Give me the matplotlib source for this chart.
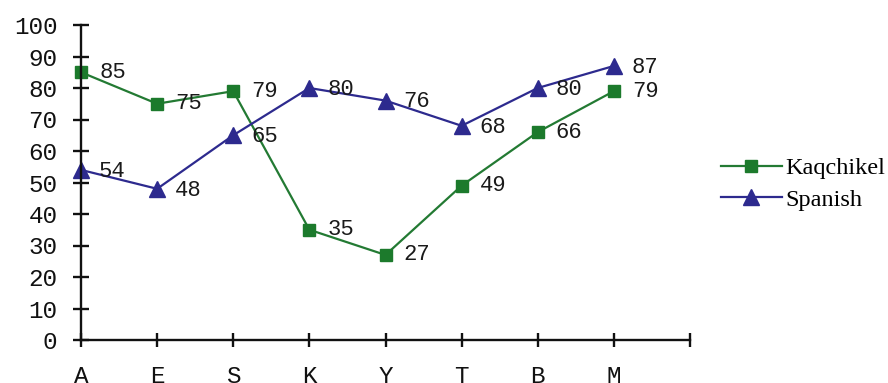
import matplotlib
matplotlib.use("Agg")
import matplotlib.pyplot as plt

categories = ["A", "E", "S", "K", "Y", "T", "B", "M"]
kaqchikel = [85, 75, 79, 35, 27, 49, 66, 79]
spanish = [54, 48, 65, 80, 76, 68, 80, 87]
y_ticks = [0, 10, 20, 30, 40, 50, 60, 70, 80, 90, 100]

green = "#237a33"
blue = "#2d2a8e"
mono = "Liberation Mono"

fig = plt.figure(figsize=(8.88, 3.83), dpi=100)
ax = fig.add_axes([81 / 888, 43 / 383, 609 / 888, 315 / 383])

x = list(range(len(categories)))
l1, = ax.plot(x, kaqchikel, color=green, lw=1.6, marker="s", ms=9,
              mfc="#1c7a2c", mec="#1c7a2c", label="Kaqchikel", clip_on=False)
l2, = ax.plot(x, spanish, color=blue, lw=1.6, marker="^", ms=11,
              mfc=blue, mec=blue, label="Spanish", clip_on=False)

for xi, v in zip(x, kaqchikel):
    ax.annotate(str(v), (xi, v), xytext=(13, 0), textcoords="offset points",
                ha="left", va="center", fontsize=16, family=mono, color="#1a1a1a")
for xi, v in zip(x, spanish):
    ax.annotate(str(v), (xi, v), xytext=(13, -1), textcoords="offset points",
                ha="left", va="center", fontsize=16, family=mono, color="#1a1a1a")

ax.set_xlim(0, 8)
ax.set_ylim(0, 100)
ax.set_xticks(list(range(9)))
ax.set_xticklabels(categories + [""])
ax.set_yticks(y_ticks)
ax.set_yticklabels([str(t) for t in y_ticks])

for side in ("top", "right"):
    ax.spines[side].set_visible(False)
for side in ("left", "bottom"):
    ax.spines[side].set_linewidth(1.7)
    ax.spines[side].set_color("#111111")

ax.tick_params(axis="y", direction="inout", length=12, width=1.7, pad=11,
               labelsize=17.5, colors="#111111")
ax.tick_params(axis="x", direction="inout", length=10, width=1.7, pad=13,
               labelsize=17.5, colors="#111111")
for lab in ax.get_xticklabels() + ax.get_yticklabels():
    lab.set_family(mono)

fig.legend(handles=[l1, l2], loc="center left", bbox_to_anchor=(721 / 888, 1 - 184 / 383),
           frameon=False, prop={"family": "Liberation Serif", "size": 17.5},
           handlelength=2.5, handletextpad=0.15, labelspacing=0.4, borderpad=0,
           borderaxespad=0)

fig.savefig("out.png", dpi=100, facecolor="white")
